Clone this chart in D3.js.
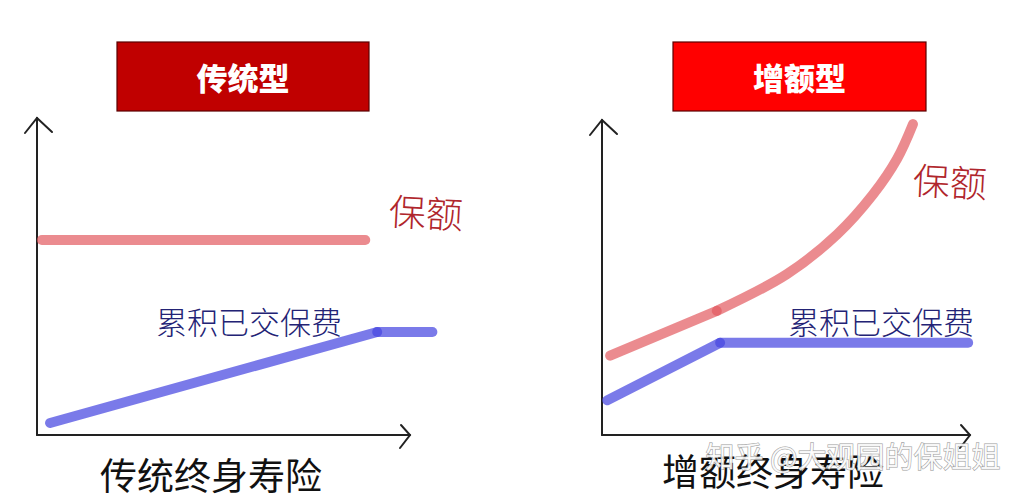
<!DOCTYPE html>
<html><head><meta charset="utf-8">
<script src="https://cdn.jsdelivr.net/npm/d3@7/dist/d3.min.js"></script>
<style>
html,body{margin:0;padding:0;background:#fff;}
svg{display:block;}
</style></head>
<body>
<svg id="c" width="1036" height="500"></svg>
<script>
// ---- data ----
const panelTitles = ["传统型", "增额型"];
const xAxisLabels = ["传统终身寿险", "增额终身寿险"];
const seriesNames = ["保额", "累积已交保费"];
// left panel (traditional)
const tradSumAssured = [[1.3, 61.5], [88, 61.5]];
const tradPremium = [[3.5, 3.8], [91.2, 32.5], [106, 32.5]];
// right panel (increasing)
const incSumAssured = [[2.2, 25.2], [31.2, 39.4], [50.3, 51.1], [63.9, 63.7], [73.6, 76.3], [80.2, 87.7], [84.5, 98.7]];
const incPremium = [[1.4, 11], [32.1, 29.3], [99.5, 29.3]];
const watermark = "知乎 @大观园的保姐姐";

const svg = d3.select("#c");
const fontCJK = "'Noto Sans CJK SC','Noto Sans',sans-serif";

const panels = [
  {title: panelTitles[0], titleFill: "#c00000", box: [117, 42, 252, 69],
   xr: [37, 410], yr: [435, 118], red: [tradSumAssured], blue: tradPremium, curve: false,
   xlabel: xAxisLabels[0], xlabelPos: [211, 474],
   redLabelPos: [426, 211], blueLabelPos: [249, 320]},
  {title: panelTitles[1], titleFill: "#ff0000", box: [673, 42, 253, 69],
   xr: [602, 970], yr: [435, 120], red: [incSumAssured.slice(0, 2), incSumAssured.slice(1)], blue: incPremium, curve: true,
   xlabel: xAxisLabels[1], xlabelPos: [773, 470],
   redLabelPos: [950, 180], blueLabelPos: [881, 320]}
];

panels.forEach(p => {
  const x = d3.scaleLinear().domain([0, 100]).range(p.xr);
  const y = d3.scaleLinear().domain([0, 100]).range(p.yr);
  const g = svg.append("g");

  // title box
  g.append("rect").attr("x", p.box[0]).attr("y", p.box[1]).attr("width", p.box[2]).attr("height", p.box[3])
    .attr("fill", p.titleFill).attr("stroke", "#5a0000").attr("stroke-width", 1.2);
  g.append("text").attr("x", p.box[0] + p.box[2] / 2).attr("y", p.box[1] + p.box[3] / 2)
    .attr("text-anchor", "middle").attr("dominant-baseline", "central")
    .attr("fill", "#fff").attr("font-family", fontCJK).attr("font-weight", 900).attr("font-size", 31)
    .text(p.title);

  // axes (arrows)
  const ax = g.append("g").attr("fill", "none").attr("stroke", "#222").attr("stroke-width", 2).attr("stroke-linecap", "round");
  ax.append("path").attr("d", d3.line()([[x(0), y(0)], [x(0), y(100)]]));
  ax.append("path").attr("d", d3.line()([[x(0) - 12, y(100) + 15], [x(0), y(100)], [x(0) + 15, y(100) + 14]]));
  ax.append("path").attr("d", d3.line()([[x(0), y(0)], [x(100), y(0)]]));
  ax.append("path").attr("d", d3.line()([[x(100) - 9, y(0) - 10], [x(100), y(0)], [x(100) - 10, y(0) + 13]]));

  const line = d3.line().x(d => x(d[0])).y(d => y(d[1]));
  const cline = d3.line().x(d => x(d[0])).y(d => y(d[1])).curve(d3.curveCatmullRom.alpha(0.5));

  // red series (sum assured)
  p.red.forEach(seg => {
    g.append("path").attr("d", (p.curve ? cline : line)(seg))
      .attr("fill", "none").attr("stroke", "#e25a60").attr("stroke-opacity", 0.7)
      .attr("stroke-width", 10).attr("stroke-linecap", "round").attr("stroke-linejoin", "round");
  });
  // blue series (premiums) drawn segment by segment
  d3.pairs(p.blue).forEach(seg => {
    g.append("path").attr("d", line(seg))
      .attr("fill", "none").attr("stroke", "#4646e0").attr("stroke-opacity", 0.72)
      .attr("stroke-width", 10).attr("stroke-linecap", "round");
  });

  // labels
  g.append("text").attr("x", p.redLabelPos[0]).attr("y", p.redLabelPos[1])
    .attr("text-anchor", "middle").attr("dominant-baseline", "central")
    .attr("fill", "#b0262c").attr("font-family", fontCJK).attr("font-weight", 300).attr("font-size", 37)
    .attr("transform", `rotate(3 ${p.redLabelPos[0]} ${p.redLabelPos[1]})`)
    .text(seriesNames[0]);
  g.append("text").attr("x", p.blueLabelPos[0]).attr("y", p.blueLabelPos[1])
    .attr("text-anchor", "middle").attr("dominant-baseline", "central")
    .attr("fill", "#232375").attr("font-family", fontCJK).attr("font-weight", 300).attr("font-size", 31)
    .text(seriesNames[1]);
  g.append("text").attr("x", p.xlabelPos[0]).attr("y", p.xlabelPos[1])
    .attr("text-anchor", "middle").attr("dominant-baseline", "central")
    .attr("fill", "#111").attr("font-family", fontCJK).attr("font-weight", 400).attr("font-size", 37)
    .text(p.xlabel);
});

// watermark
svg.append("text").attr("x", 853).attr("y", 455)
  .attr("text-anchor", "middle").attr("dominant-baseline", "central")
  .attr("font-family", fontCJK).attr("font-size", 29).attr("font-weight", 400)
  .attr("fill", "#fff").attr("fill-opacity", 0.85)
  .attr("stroke", "#9a9a9a").attr("stroke-width", 1).attr("paint-order", "stroke")
  .text(watermark);
</script>
</body></html>
